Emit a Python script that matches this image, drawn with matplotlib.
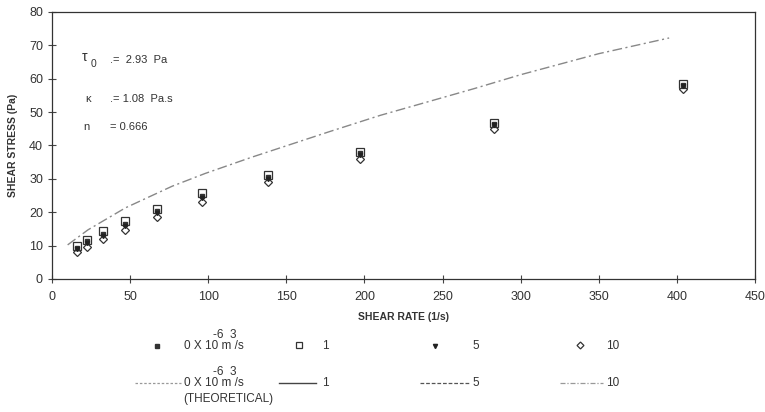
import matplotlib.pyplot as plt
from matplotlib.lines import Line2D
import numpy as np

# measured shear rates (1/s)
shear_rate = [16, 22.5, 32.7, 46.8, 67, 96, 138, 197, 283, 404]

# shear stress (Pa) for each flow rate
stress_q0 = [9.3, 11.3, 13.5, 16.5, 20.3, 24.8, 30.5, 37.6, 46.4, 58.2]
stress_q1 = [9.8, 11.8, 14.3, 17.3, 21.1, 25.6, 31.0, 38.0, 46.6, 58.4]
stress_q5 = [9.0, 10.8, 13.0, 16.0, 19.8, 24.2, 30.0, 37.0, 46.0, 57.8]
stress_q10 = [8.2, 9.7, 12.0, 14.8, 18.7, 23.2, 28.9, 35.8, 45.0, 56.8]

# theoretical curve (0 flow rate)
theo_rate = [10, 23, 47, 77, 98, 128, 178, 210, 270, 300, 350, 395]
theo_stress = [10.2, 14.7, 21.3, 27.8, 31.6, 36.5, 44.2, 49.0, 57.0, 61.2, 67.5, 72.2]

xticks = np.arange(0, 451, 50)
yticks = np.arange(0, 81, 10)

txt = '#333333'
plt.rcParams['font.family'] = ['Liberation Sans', 'DejaVu Sans']

fig = plt.figure(figsize=(7.65, 4.12), dpi=100)
ax = fig.add_axes([0.068, 0.323, 0.919, 0.648])

ax.plot(theo_rate, theo_stress, color='#888888', lw=1.0, dashes=(7, 2.5, 1.5, 2.5))
ax.plot(shear_rate, stress_q10, 'D', ms=4.0, mfc='white', mec='#333333', mew=0.9)
ax.plot(shear_rate, stress_q1, 's', ms=5.5, mfc='white', mec='#333333', mew=0.9)
ax.plot(shear_rate, stress_q0, 's', ms=3.5, color='#333333')
ax.plot(shear_rate, stress_q5, 'v', ms=3.0, color='#222222')

ax.set_xlim(0, 450)
ax.set_ylim(0, 80)
ax.set_xticks(xticks)
ax.set_yticks(yticks)
ax.tick_params(direction='inout', length=6, width=0.8, colors='#444444',
               labelcolor=txt, labelsize=9)
ax.tick_params(axis='x', pad=6)
for s in ax.spines.values():
    s.set_color('#333333')
    s.set_linewidth(0.9)

ax.set_xlabel('SHEAR RATE (1/s)', fontsize=7.5, fontweight='bold', color=txt, labelpad=6)
ax.set_ylabel('SHEAR STRESS (Pa)', fontsize=7.5, fontweight='bold', color=txt, labelpad=8)

# model parameters
ax.text(19, 66.5, 'τ', fontsize=10, color=txt, va='center')
ax.text(24.5, 64.5, '0', fontsize=7.5, color=txt, va='center')
ax.text(37, 65.5, '.=  2.93  Pa', fontsize=8, color=txt, va='center')
ax.text(21, 54, 'κ', fontsize=8, color=txt, va='center')
ax.text(37, 54, '.= 1.08  Pa.s', fontsize=8, color=txt, va='center')
ax.text(20, 45.5, 'n', fontsize=8, color=txt, va='center')
ax.text(37, 45.5, '= 0.666', fontsize=8, color=txt, va='center')


def fx(px):
    return px / 765.0


def fy(py):
    return 1 - py / 412.0


# legend row 1: measured
r1 = 346
fig.add_artist(Line2D([fx(157)], [fy(r1)], marker='s', ms=3.5, color='#333333', ls=''))
fig.add_artist(Line2D([fx(299)], [fy(r1 - 1)], marker='s', ms=5, mfc='white', mec='#333333', mew=0.9, ls=''))
fig.add_artist(Line2D([fx(435)], [fy(r1)], marker='v', ms=3, color='#222222', ls=''))
fig.add_artist(Line2D([fx(580)], [fy(r1 - 1)], marker='D', ms=3.5, mfc='white', mec='#333333', mew=0.9, ls=''))

# legend row 2: theoretical
r2 = 383
fig.add_artist(Line2D([fx(135), fx(181)], [fy(r2), fy(r2)], color='#999999', lw=0.9, ls=(0, (2, 1.5))))
fig.add_artist(Line2D([fx(279), fx(316)], [fy(r2), fy(r2)], color='#444444', lw=1.0))
fig.add_artist(Line2D([fx(420), fx(469)], [fy(r2), fy(r2)], color='#555555', lw=0.9, ls=(0, (3, 1.5))))
fig.add_artist(Line2D([fx(560), fx(603)], [fy(r2), fy(r2)], color='#999999', lw=0.9, ls=(0, (4, 1.5, 1, 1.5))))

lab = dict(fontsize=8.5, color=txt, va='center')
for r in (r1, r2):
    fig.text(fx(184), fy(r), '0 X 10 m /s', **lab)
    fig.text(fx(213), fy(r - 11), '-6  3', **lab)
fig.text(fx(183), fy(r2 + 16), '(THEORETICAL)', **lab)
for r in (r1, r2):
    fig.text(fx(322), fy(r), '1', **lab)
    fig.text(fx(472), fy(r), '5', **lab)
    fig.text(fx(606), fy(r), '10', **lab)

fig.savefig('out.png', dpi=100)
